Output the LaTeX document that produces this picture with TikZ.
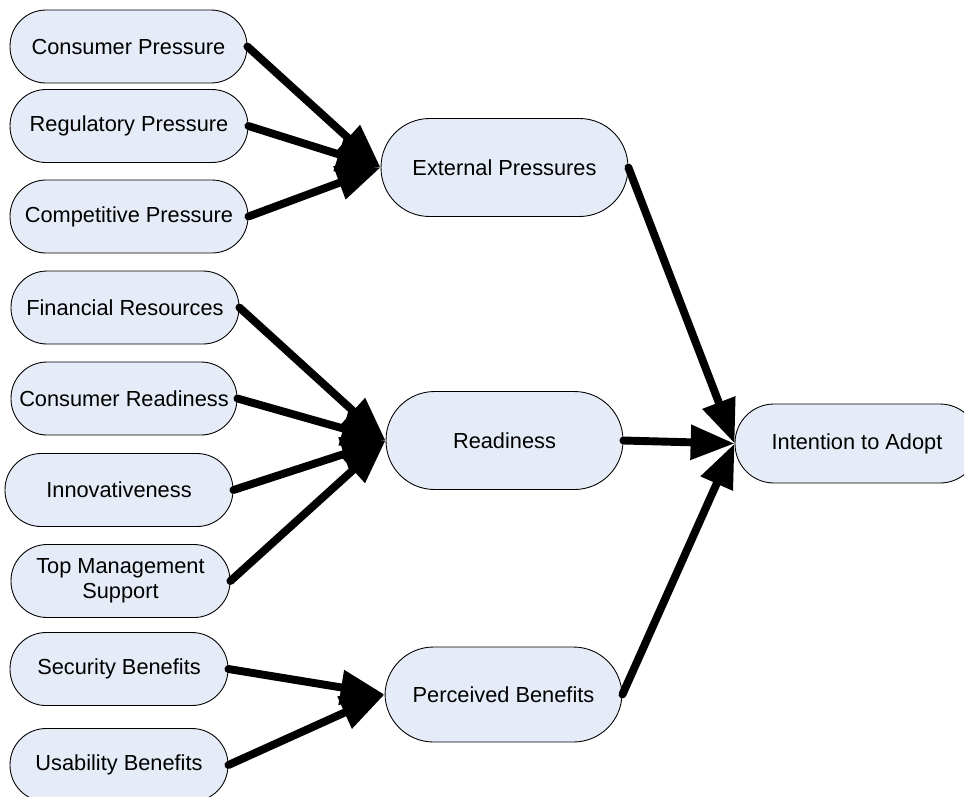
\documentclass[tikz,border=0pt]{standalone}
\usepackage{fontspec}
\setmainfont{Liberation Sans}
\usepackage{xcolor}
\usepackage{tikz}
\usetikzlibrary{arrows.meta, shapes.misc, calc}

\definecolor{boxfill}{RGB}{230,236,247}

\tikzset{
  factor/.style={rectangle, rounded corners=0.72cm, draw=black, line width=0.5pt, fill=boxfill, inner sep=0pt, minimum height=1.46cm, font=\fontsize{12.4}{14.5}\selectfont, align=center},
  construct/.style={factor, rounded corners=0.97cm, minimum height=1.96cm},
  link/.style={line width=4.5pt, line cap=round, -{Triangle[length=25pt, width=19pt]}}
}

\begin{document}
\begin{tikzpicture}[x=0.02cm, y=-0.02cm]
  \useasboundingbox (0, 0) rectangle (964, 796);
  \node[factor, minimum width=4.74cm] (conspress) at (128.5, 46.5) {Consumer Pressure};
  \node[factor, minimum width=4.76cm] (regpress) at (129, 126) {Regulatory Pressure};
  \node[factor, minimum width=4.76cm] (comppress) at (129, 216.5) {Competitive Pressure};
  \node[factor, minimum width=4.56cm] (finres) at (125, 307.5) {Financial Resources};
  \node[factor, minimum width=4.52cm] (consready) at (124, 398.5) {Consumer Readiness};
  \node[factor, minimum width=4.56cm] (innov) at (119, 490) {Innovativeness};
  \node[factor, minimum width=4.38cm] (topmgmt) at (120.5, 581) {Top Management\\Support};
  \node[factor, minimum width=4.36cm] (secben) at (119, 669) {Security Benefits};
  \node[factor, minimum width=4.36cm] (useben) at (119, 765) {Usability Benefits};
  \node[construct, minimum width=4.94cm] (extpress) at (504.5, 167.5) {External Pressures};
  \node[construct, minimum width=4.74cm] (ready) at (504.5, 440.5) {Readiness};
  \node[construct, minimum width=4.74cm, minimum height=1.9cm] (percben) at (503.5, 694.5) {Perceived Benefits};
  \node[factor, minimum width=4.88cm, minimum height=1.58cm, rounded corners=0.78cm] (intent) at (857, 443.5) {Intention to Adopt};
  \draw[link] (conspress.east) -- (extpress.west);
  \draw[link] (regpress.east) -- (extpress.west);
  \draw[link] (comppress.east) -- (extpress.west);
  \draw[link] (finres.east) -- (ready.west);
  \draw[link] (consready.east) -- (ready.west);
  \draw[link] (innov.east) -- (ready.west);
  \draw[link] (topmgmt.east) -- (ready.west);
  \draw[link] (secben.east) -- (percben.west);
  \draw[link] (useben.east) -- (percben.west);
  \draw[link] (extpress.east) -- (intent.west);
  \draw[link] (ready.east) -- (intent.west);
  \draw[link] (percben.east) -- (intent.west);
\end{tikzpicture}
\end{document}
